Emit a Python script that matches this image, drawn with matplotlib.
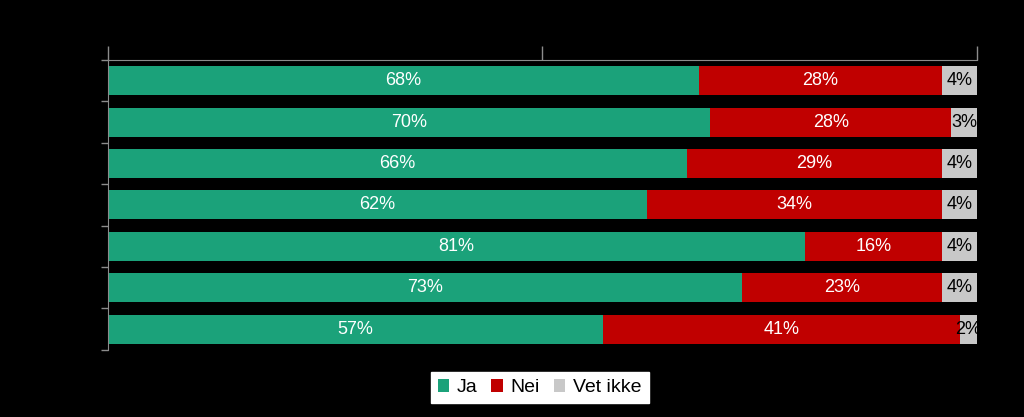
import matplotlib.pyplot as plt
import numpy as np

plt.rcParams['font.family'] = ['Liberation Sans', 'DejaVu Sans']

# data (rows top to bottom)
ja = [68, 70, 66, 62, 81, 73, 57]
nei = [28, 28, 29, 34, 16, 23, 41]
vet_ikke = [4, 3, 4, 4, 4, 4, 2]

series_names = ["Ja", "Nei", "Vet ikke"]
colors = ["#1ba27a", "#c00000", "#c8c8c8"]
text_colors = ["white", "white", "black"]

vals = np.array([ja, nei, vet_ikke], dtype=float)
shares = vals / vals.sum(axis=0)

fig = plt.figure(figsize=(10.24, 4.17), dpi=100, facecolor="black")
ax = fig.add_axes([0.1055, 0.161, 0.8485, 0.695], facecolor="black")

y = np.arange(len(ja))
left = np.zeros(len(ja))
for i in range(3):
    ax.barh(y, shares[i], left=left, height=0.7, color=colors[i],
            label=series_names[i])
    for k in range(len(ja)):
        ax.text(left[k] + shares[i][k] / 2, y[k], f"{int(vals[i][k])}%",
                ha="center", va="center", color=text_colors[i], fontsize=13)
    left += shares[i]

ax.set_xlim(0, 1)
ax.set_ylim(len(ja) - 0.5, -0.5)

# top axis with ticks, no labels
ax.xaxis.tick_top()
ax.set_xticks([0, 0.5, 1])
ax.set_xticklabels([])
ax.tick_params(axis="x", colors="#8c8c8c", length=10, width=1)

# left axis ticks at category boundaries
ax.set_yticks(np.arange(-0.5, len(ja), 1))
ax.set_yticklabels([])
ax.tick_params(axis="y", colors="#8c8c8c", length=5, width=1)

for side in ["right", "bottom"]:
    ax.spines[side].set_visible(False)
for side in ["top", "left"]:
    ax.spines[side].set_color("#8c8c8c")

leg = fig.legend(loc="center", bbox_to_anchor=(0.527, 0.07), ncol=3,
                 fontsize=14, frameon=True, fancybox=False, framealpha=1,
                 handlelength=0.6, handleheight=0.6, handletextpad=0.4,
                 columnspacing=0.7, borderpad=0.35)
leg.get_frame().set_facecolor("white")
leg.get_frame().set_edgecolor("white")

fig.savefig("out.png", dpi=100, facecolor="black")
